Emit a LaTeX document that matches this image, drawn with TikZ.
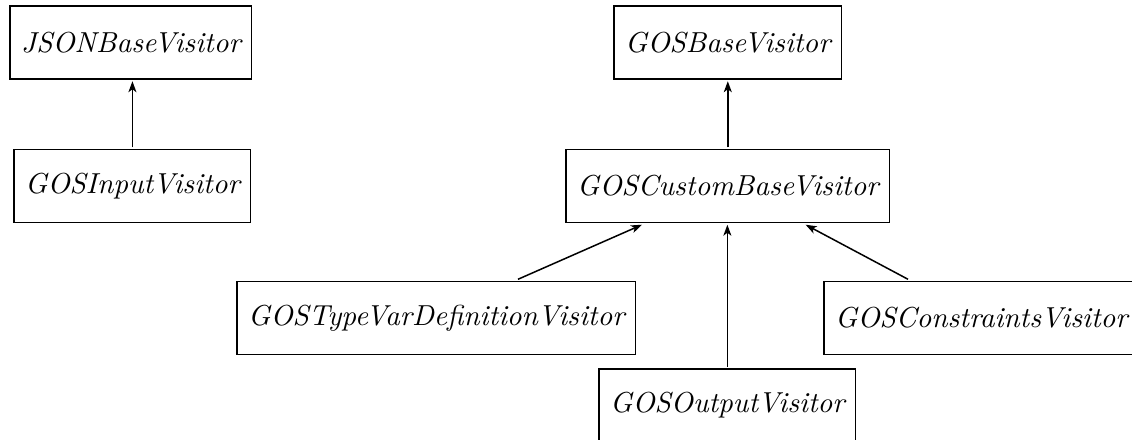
\documentclass[tikz,border=0pt]{standalone}
\usetikzlibrary{arrows.meta}
\tikzset{
  classbox/.style={draw, line width=1.5pt, scale=2.89, transform shape,
    inner xsep=3.8pt, inner ysep=0pt, minimum height=25.3pt, font=\itshape},
  inherits/.style={line width=1.5pt, -{Stealth[length=11pt,width=8pt,inset=3pt]}}
}
\begin{document}
\begin{tikzpicture}[x=1pt,y=-1pt]
\useasboundingbox (0,0) rectangle (1132,439);
% JSON side
\node[classbox, anchor=west] (json)  at (8,42.5)  {JSONBaseVisitor};
\node[classbox, anchor=west] (input) at (12,186)  {GOSInputVisitor};
% GOS side
\node[classbox, anchor=west] (gbase) at (612,42.5) {GOSBaseVisitor};
\node[classbox, anchor=west] (cbase) at (564,186)  {GOSCustomBaseVisitor};
\node[classbox, anchor=west] (tvar)  at (235,318)  {GOSTypeVarDefinitionVisitor};
\node[classbox, anchor=west] (cons)  at (822,318)  {GOSConstraintsVisitor};
\node[classbox, anchor=west] (out)   at (597,405.5) {GOSOutputVisitor};
% inheritance arrows
\draw[inherits] (input.north) -- (input.north |- json.south);
\draw[inherits] (cbase.north) -- (cbase.north |- gbase.south);
\draw[inherits] ([xshift=283pt]tvar.north west) -- ([xshift=78pt]cbase.south west);
\draw[inherits] (out.north) -- (out.north |- cbase.south);
\draw[inherits] ([xshift=86pt]cons.north west) -- ([xshift=-86pt]cbase.south east);
\end{tikzpicture}
\end{document}
